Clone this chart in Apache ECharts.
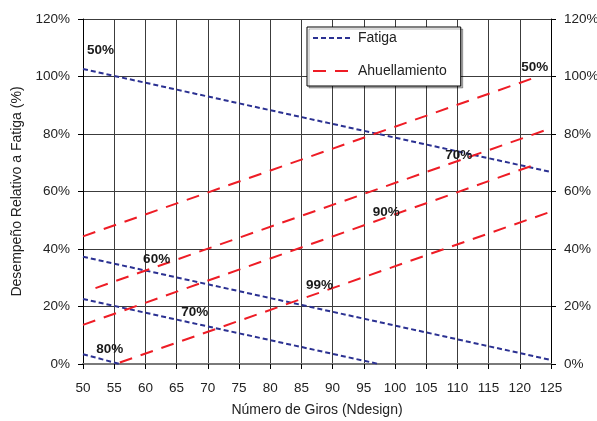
<!DOCTYPE html>
<html>
<head>
<meta charset="utf-8">
<script src="https://cdn.jsdelivr.net/npm/echarts@6/dist/echarts.min.js"></script>
<style>html,body{margin:0;padding:0;background:#fff}#c{width:597px;height:421px}</style>
</head>
<body>
<div id="c"></div>
<script>
// X axis range (Número de Giros)
const xMin = 50, xMax = 125, xStep = 5;
// Y axis range (%)
const yMin = 0, yMax = 120, yStep = 20;

// Fatiga lines (blue dotted) [Ndesign, %]
const fatiga50 = [[50, 102.6], [125, 66.8]];
const fatiga60 = [[50, 37.3], [125, 1.4]];
const fatiga70 = [[50, 22.6], [97.4, 0]];
const fatiga80 = [[50, 3.4], [55.9, 0]];

// Ahuellamiento lines (red dashed) [Ndesign, %]
const ahuell50 = [[50, 44.4], [122.9, 100]];
const ahuell70 = [[52, 26.4], [125, 82]];
const ahuell90 = [[50, 13.6], [122, 69]];
const ahuell99 = [[55.9, 0.5], [125, 53]];

// Line annotations [Ndesign, %, text]
const annotations = [
  [52.8, 109.2, '50%'],
  [61.8, 36.5, '60%'],
  [67.9, 18.1, '70%'],
  [54.3, 5.2, '80%'],
  [87.9, 27.5, '99%'],
  [98.6, 52.9, '90%'],
  [110.2, 72.7, '70%'],
  [122.4, 103.3, '50%']
];

const FONT = "'Liberation Sans', Arial, sans-serif";
const BLUE = '#2B3192';
const RED = '#EE1C25';

function blue(data) {
  return {
    type: 'line', name: 'Fatiga', data: data, symbol: 'none', showSymbol: false,
    lineStyle: { color: BLUE, width: 2, type: [5, 3] }, itemStyle: { color: BLUE },
    silent: true, animation: false
  };
}
function red(data) {
  return {
    type: 'line', name: 'Ahuellamiento', data: data, symbol: 'none', showSymbol: false,
    lineStyle: { color: RED, width: 2, type: [13, 9] }, itemStyle: { color: RED },
    silent: true, animation: false
  };
}

const yAxisCommon = {
  type: 'value', min: yMin, max: yMax, interval: yStep,
  axisLine: { show: true, lineStyle: { color: '#000', width: 1 } },
  axisTick: { show: true, length: 5, lineStyle: { color: '#000' } },
  axisLabel: { formatter: '{value}%', fontFamily: FONT, fontSize: 13.5, color: '#222', margin: 13 },
  splitLine: { show: false }
};

const chart = echarts.init(document.getElementById('c'), null, { renderer: 'canvas' });
chart.setOption({
  animation: false,
  backgroundColor: '#fff',
  grid: { left: 83, right: 46, top: 19, bottom: 57, containLabel: false, outerBoundsMode: 'none' },
  legend: {
    data: ['Fatiga', 'Ahuellamiento'],
    orient: 'vertical', left: 307, top: 27,
    itemWidth: 40, itemHeight: 14, itemGap: 19,
    padding: [4, 14, 8, 5],
    backgroundColor: '#fff', borderColor: '#000', borderWidth: 1,
    shadowColor: 'rgba(0,0,0,0.3)', shadowOffsetX: 2, shadowOffsetY: 2, shadowBlur: 0,
    itemStyle: { opacity: 0 },
    textStyle: { fontFamily: FONT, fontSize: 14, color: '#222' },
    selectedMode: false
  },
  xAxis: {
    type: 'value', min: xMin, max: xMax, interval: xStep,
    name: 'Número de Giros (Ndesign)', nameLocation: 'middle', nameGap: 39,
    nameTextStyle: { fontFamily: FONT, fontSize: 14, color: '#222' },
    axisLine: { show: true, onZero: false, lineStyle: { color: '#7a7a7a', width: 2 } },
    axisTick: { show: true, length: 5, lineStyle: { color: '#000' } },
    axisLabel: { fontFamily: FONT, fontSize: 13.5, color: '#222', margin: 17 },
    splitLine: { show: true, lineStyle: { color: '#3c3c3c', width: 1 } }
  },
  yAxis: [
    Object.assign({}, yAxisCommon, {
      position: 'left',
      name: 'Desempeño Relativo a Fatiga (%)', nameLocation: 'middle', nameGap: 59,
      nameTextStyle: { fontFamily: FONT, fontSize: 14, color: '#222' },
      splitLine: { show: true, lineStyle: { color: '#3c3c3c', width: 1 } }
    }),
    Object.assign({}, yAxisCommon, { position: 'right' })
  ],
  series: [
    blue(fatiga50), blue(fatiga60), blue(fatiga70), blue(fatiga80),
    red(ahuell50), red(ahuell70), red(ahuell90), red(ahuell99),
    {
      type: 'scatter', name: 'labels', data: annotations, symbolSize: 0, silent: true,
      z: 5, itemStyle: { opacity: 1 },
      label: {
        show: true, position: 'inside', formatter: p => p.value[2],
        fontFamily: FONT, fontSize: 13.5, fontWeight: 'bold', color: '#1a1a1a',
        textBorderWidth: 0, textBorderColor: 'transparent'
      }
    }
  ]
});
</script>
</body>
</html>
